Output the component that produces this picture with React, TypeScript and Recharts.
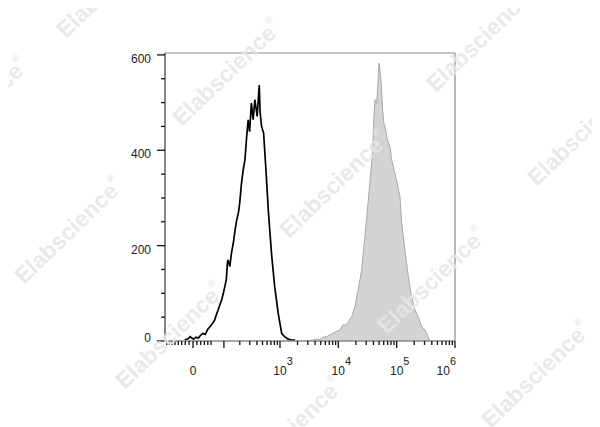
import React from "react"
import { ComposedChart, Line, Area, XAxis, YAxis, ReferenceLine } from "recharts"

// control (isotype) histogram, x in logicle display units (decades)
const controlPos = [1.37, 1.43, 1.46, 1.52, 1.56, 1.6, 1.64, 1.68, 1.72, 1.76, 1.8, 1.84, 1.88, 1.91, 1.94, 1.97, 2.0, 2.03, 2.055, 2.08, 2.1, 2.11, 2.14, 2.17, 2.2, 2.23, 2.26, 2.29, 2.31, 2.34, 2.37, 2.4, 2.43, 2.455, 2.48, 2.51, 2.54, 2.57, 2.61, 2.645, 2.66, 2.685, 2.72, 2.76, 2.8, 2.83, 2.86, 2.91, 2.97, 3.03, 3.08, 3.14, 3.2, 3.26]
const controlCount = [2, 5, 9, 4, 8, 6, 12, 16, 14, 24, 30, 36, 44, 55, 65, 76, 86, 100, 114, 128, 165, 170, 156, 185, 205, 232, 254, 270, 289, 330, 359, 380, 429, 464, 439, 499, 464, 506, 471, 537, 480, 450, 436, 359, 275, 225, 177, 114, 58, 16, 9, 4, 2, 2]

// stained sample histogram
const stainedPos = [3.46, 3.57, 3.63, 3.68, 3.74, 3.8, 3.85, 3.91, 3.96, 4.03, 4.08, 4.13, 4.17, 4.23, 4.285, 4.34, 4.4, 4.456, 4.51, 4.55, 4.59, 4.61, 4.628, 4.657, 4.674, 4.696, 4.714, 4.731, 4.76, 4.78, 4.816, 4.84, 4.885, 4.914, 4.97, 5.01, 5.057, 5.086, 5.142, 5.2, 5.257, 5.314, 5.37, 5.43, 5.485, 5.54, 5.571]
const stainedCount = [0, 2, 4, 3, 8, 9, 13, 16, 20, 23, 34, 33, 40, 51, 72, 107, 149, 219, 289, 345, 401, 471, 506, 499, 527, 583, 569, 548, 485, 457, 443, 422, 408, 380, 352, 331, 303, 247, 191, 135, 93, 65, 51, 30, 23, 9, 0]

const yTicks = [0, 50, 100, 150, 200, 250, 300, 350, 400, 450, 500, 550, 600]
const yLabels = [0, 200, 400, 600]

const xLabelValues = [0, 1000, 10000, 100000, 1000000]
const xLabelExp = ["", "3", "4", "5", "6"]
const xMajorValues = [0, 100, 1000, 10000, 100000, 1000000]
const xMinorValues = [
  -80, -70, -60, -50, -40, -30, -20, -10, 10, 20, 30, 40, 50,
  200, 300, 400, 500, 600, 700, 800, 900,
  2000, 3000, 4000, 5000, 6000, 7000, 8000, 9000,
  20000, 30000, 40000, 50000, 60000, 70000, 80000, 90000,
  200000, 300000, 400000, 500000, 600000, 700000, 800000, 900000,
]

const watermarks = [
  [228, 74], [335, 186], [433, 282], [482, 40], [70, 232], [171, 337],
  [583, 134], [537, 376], [290, 432], [112, -14], [-25, 112],
]

const X_MIN = 1.03
const X_MAX = 6
const Y_MAX = 604

// biexponential-style display transform for the tick positions
const toDisplay = (v: number) => Math.min(X_MAX, Math.asinh(v / 64.7) / Math.LN10 + 1.51)

const rows = [
  ...controlPos.map((x, i) => ({ x, control: controlCount[i] })),
  ...stainedPos.map((x, i) => ({ x, stained: stainedCount[i] })),
]

const xTickInfo = new Map<number, { major: boolean; label?: string; exp?: string; last?: boolean }>()
xMinorValues.forEach((v) => xTickInfo.set(toDisplay(v), { major: false }))
xMajorValues.forEach((v) => xTickInfo.set(toDisplay(v), { major: true }))
xLabelValues.forEach((v, i) => {
  xTickInfo.set(toDisplay(v), {
    major: true,
    label: v === 0 ? "0" : "10",
    exp: xLabelExp[i],
    last: i === xLabelValues.length - 1,
  })
})
const xTicks = Array.from(xTickInfo.keys())
  .filter((p) => p >= X_MIN && p <= X_MAX)
  .sort((a, b) => a - b)

const FONT = "'Liberation Sans', Arial, sans-serif"

const XTick = (props: any) => {
  const { x, y, payload } = props
  const info = xTickInfo.get(payload.value) || { major: false }
  const len = info.major ? 7 : 4
  return (
    <g>
      <line x1={x} y1={y} x2={x} y2={y + len} stroke="#111" strokeWidth={1.3} />
      {info.label === "0" && (
        <text x={x} y={y + 34} textAnchor="middle" fontSize={12} fill="#222" fontFamily={FONT}>
          0
        </text>
      )}
      {info.label === "10" && (
        <text
          x={info.last ? x + 1 : x - 6.7}
          y={y + 34}
          textAnchor={info.last ? "end" : "start"}
          fontSize={12}
          fill="#222"
          fontFamily={FONT}
        >
          10
          <tspan dy={-10} fontSize={11}>
            {info.exp}
          </tspan>
        </text>
      )}
    </g>
  )
}

const YTick = (props: any) => {
  const { x, y, payload } = props
  const major = yLabels.includes(payload.value)
  const len = major ? 8 : 4
  return (
    <g>
      <line x1={x - len} y1={y} x2={x} y2={y} stroke="#111" strokeWidth={1.3} />
      {major && (
        <text
          x={x - 14}
          y={y + (payload.value === 0 ? 1 : 8)}
          textAnchor="end"
          fontSize={12}
          fill="#222"
          fontFamily={FONT}
        >
          {payload.value}
        </text>
      )}
    </g>
  )
}

export default function App() {
  return (
    <div style={{ position: "relative", width: 592, height: 419, fontFamily: FONT }}>
      <ComposedChart
        width={592}
        height={419}
        data={rows}
        margin={{ top: 45, right: 145, bottom: 56, left: 117 }}
      >
        <ReferenceLine y={Y_MAX} stroke="#8a8a8a" strokeWidth={1.2} />
        <ReferenceLine x={X_MAX} stroke="#8a8a8a" strokeWidth={1.2} />
        <Area
          type="linear"
          dataKey="stained"
          stroke="#a9a9a9"
          strokeWidth={1}
          fill="#d3d3d3"
          fillOpacity={1}
          isAnimationActive={false}
          dot={false}
          activeDot={false}
        />
        <Line
          type="linear"
          dataKey="control"
          stroke="#000"
          strokeWidth={1.7}
          dot={false}
          activeDot={false}
          isAnimationActive={false}
        />
        <XAxis
          dataKey="x"
          type="number"
          domain={[X_MIN, X_MAX]}
          allowDataOverflow
          ticks={xTicks}
          interval={0}
          tickSize={0}
          tickMargin={0}
          tick={XTick}
          axisLine={{ stroke: "#888", strokeWidth: 1.3 }}
          height={30}
        />
        <YAxis
          type="number"
          domain={[0, Y_MAX]}
          allowDataOverflow
          ticks={yTicks}
          interval={0}
          tickSize={0}
          tickMargin={0}
          tick={YTick}
          axisLine={{ stroke: "#444", strokeWidth: 1.3 }}
          width={40}
        />
      </ComposedChart>
      <svg
        width={600}
        height={427}
        style={{ position: "absolute", left: -8, top: -8, pointerEvents: "none" }}
      >
        {watermarks.map(([cx, cy], i) => (
          <text
            key={i}
            x={cx}
            y={cy}
            transform={`rotate(-44 ${cx} ${cy})`}
            textAnchor="middle"
            dominantBaseline="middle"
            fontSize={23}
            fontWeight="bold"
            fontFamily={FONT}
            fill="#e6e6e6"
            fillOpacity={0.9}
          >
            Elabscience
            <tspan fontSize={10} dy={-10}>
              ®
            </tspan>
          </text>
        ))}
      </svg>
    </div>
  )
}
